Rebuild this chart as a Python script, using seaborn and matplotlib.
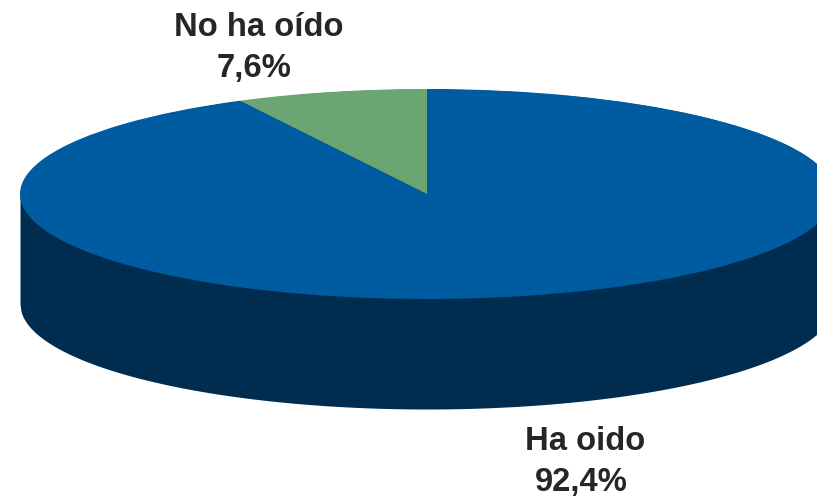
import numpy as np
import matplotlib
matplotlib.use("Agg")
import matplotlib.pyplot as plt
import seaborn as sns

categories = ["Ha oido", "No ha oído"]
values = [92.4, 7.6]
value_labels = ["92,4%", "7,6%"]
palette = sns.color_palette(["#005CA1", "#6BA573"])
side_color = "#002C50"

sns.set_theme(style="white")
plt.rcParams["font.family"] = ["Liberation Sans", "DejaVu Sans"]

W, H = 817, 497
cx, cy, rx, ry, depth = 427, 194, 407, 105, 110

fig = plt.figure(figsize=(W / 100, H / 100), dpi=100)
ax = fig.add_axes([0, 0, 1, 1])

# Body of the cylinder below the top face
t = np.linspace(-1, 1, 800)
arc = np.sqrt(1 - t**2)
ax.fill_between(t, arc, -arc - depth / ry, color=side_color, lw=0, zorder=1)

# Top face: drawn by pie from the values, first slice runs clockwise from 12 o'clock
wedges, _ = ax.pie(values, colors=palette, startangle=90, counterclock=False,
                   radius=1, center=(0, 0), wedgeprops={"linewidth": 0})
for w in wedges:
    w.set_zorder(2)

ax.set_aspect("auto")
ax.set_xlim((0 - cx) / rx, (W - cx) / rx)
ax.set_ylim((cy - H) / ry, cy / ry)
ax.axis("off")


def px(x, y):
    return (x - cx) / rx, (cy - y) / ry


font = dict(fontsize=23.6, fontweight="bold", color="#262626", ha="center", va="center", zorder=3)
ax.text(*px(585, 442), categories[0], **font)
ax.text(*px(581, 482.5), value_labels[0], **font)
ax.text(*px(258.5, 27), categories[1], **font)
ax.text(*px(254, 68), value_labels[1], **font)

fig.savefig("out.png", dpi=100, facecolor="white")
